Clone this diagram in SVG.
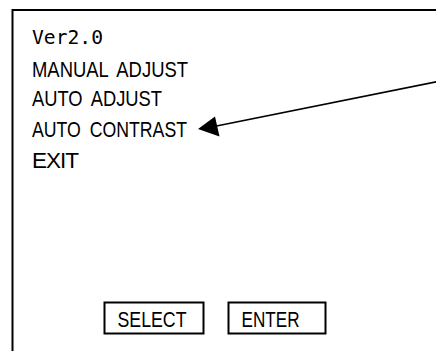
<svg xmlns="http://www.w3.org/2000/svg" width="436" height="351" viewBox="0 0 436 351">
<style>
.frame{fill:none;stroke:#000;stroke-width:2}
.btn{fill:#fff;stroke:#000;stroke-width:2}
.t{font-family:"Liberation Sans",Arial,sans-serif;font-size:22.5px;fill:#000;word-spacing:5px}
.m{font-family:"DejaVu Sans Mono","Liberation Mono",monospace;font-size:20px;fill:#000}
.conn{stroke:#000;stroke-width:1.6;fill:none}
</style>
<rect width="436" height="351" fill="#fff"/>
<g id="screen">
<path class="frame" d="M12.5 351 V10 H436"/>
<text class="m" x="32" y="43.5" textLength="71" lengthAdjust="spacingAndGlyphs">Ver2.0</text>
<text class="t" x="32" y="76.5" textLength="156" lengthAdjust="spacingAndGlyphs">MANUAL ADJUST</text>
<text class="t" x="32" y="105.5" textLength="130" lengthAdjust="spacingAndGlyphs">AUTO ADJUST</text>
<text class="t" x="32" y="136.5" textLength="155" lengthAdjust="spacingAndGlyphs">AUTO CONTRAST</text>
<text class="t" x="32" y="168" textLength="47" lengthAdjust="spacing">EXIT</text>
</g>
<g id="select">
<rect class="btn" x="104.5" y="302.5" width="99" height="31"/>
<text class="t" x="117.5" y="326.5" textLength="69" lengthAdjust="spacingAndGlyphs">SELECT</text>
</g>
<g id="enter">
<rect class="btn" x="228.5" y="302.5" width="97" height="31"/>
<text class="t" x="241.5" y="326.5" textLength="58" lengthAdjust="spacingAndGlyphs">ENTER</text>
</g>
<g id="connectors">
<line class="conn" x1="437" y1="81.7" x2="214" y2="126.5"/>
<polygon points="198,129 215,116.5 219.5,136.5" fill="#000"/>
</g>
</svg>
